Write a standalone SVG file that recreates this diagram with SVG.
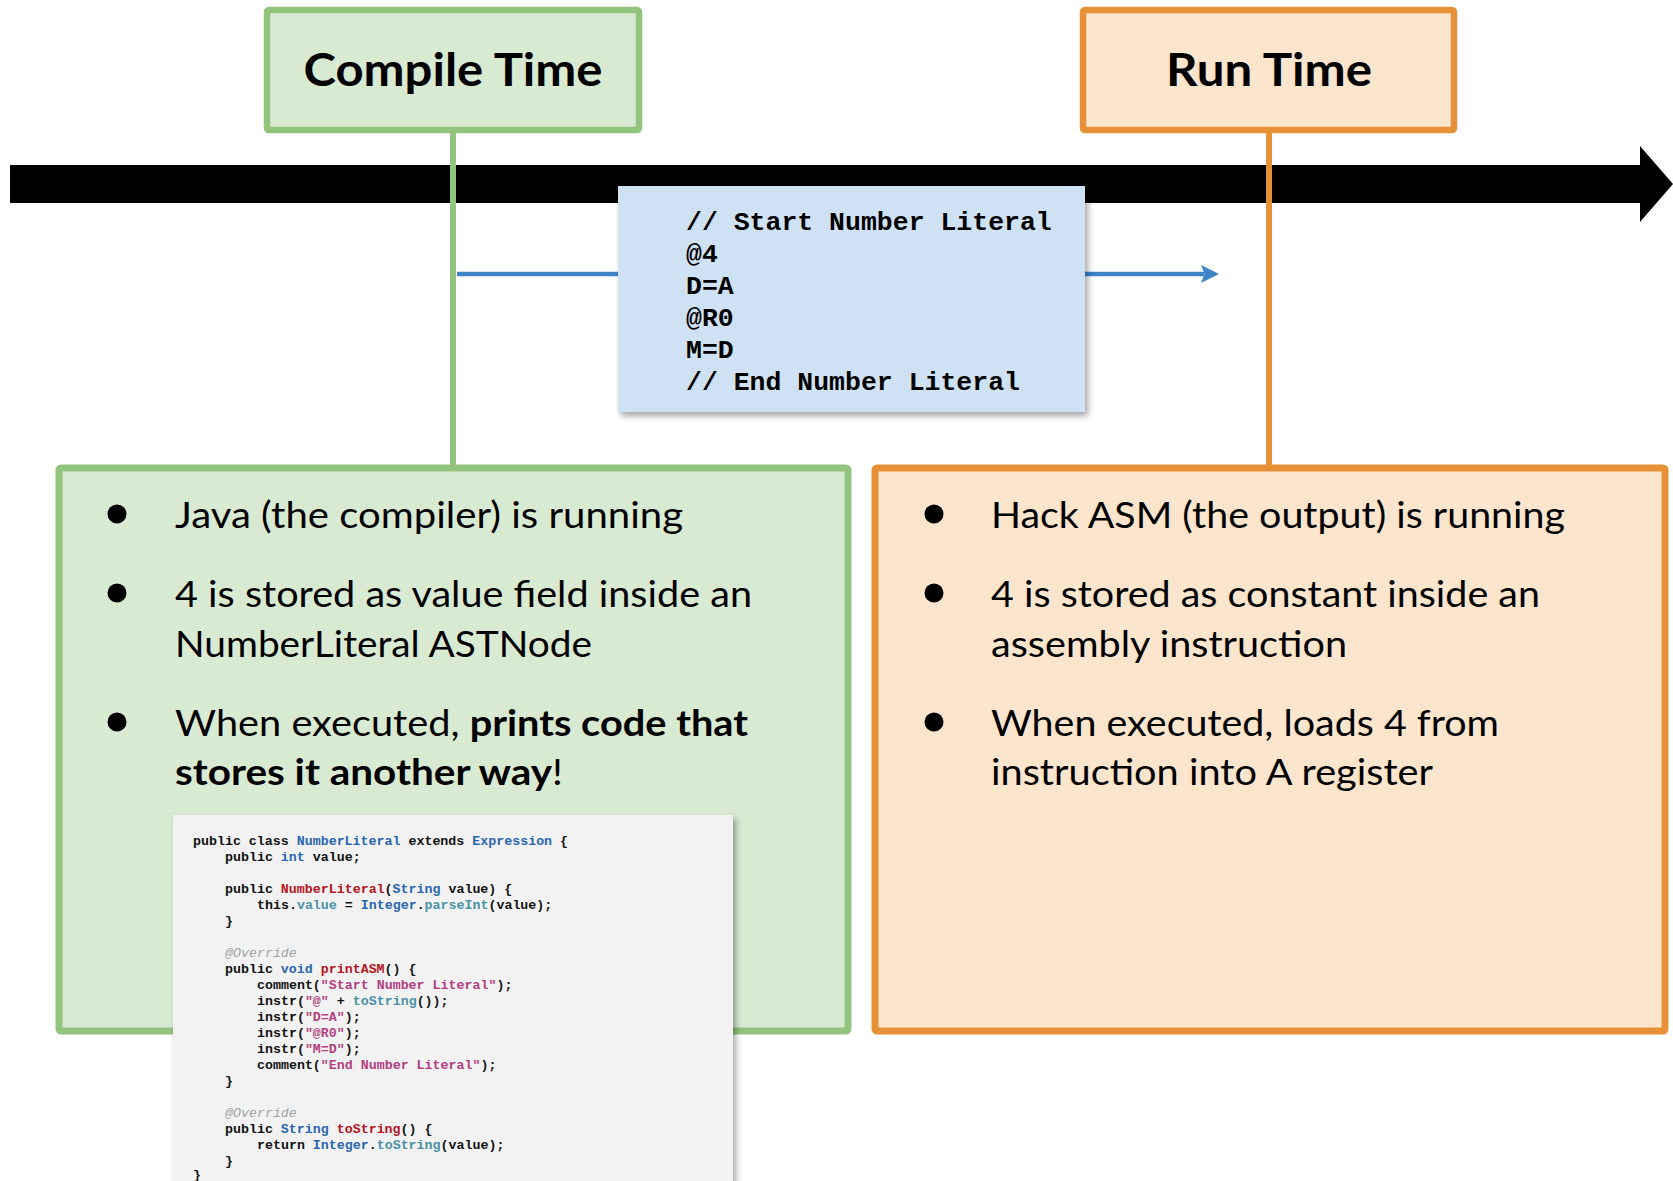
<svg xmlns="http://www.w3.org/2000/svg" width="1673" height="1181" viewBox="0 0 1673 1181">
<defs>
<style>
.hd{font-family:Lato,"Open Sans","Liberation Sans",sans-serif;font-weight:700;font-size:45px;fill:#000;text-anchor:middle}
.bt{font-family:Lato,"Open Sans","Liberation Sans",sans-serif;font-size:36px;fill:#000}
.b{font-weight:700}
.asm{font-family:"Courier New","Liberation Mono",monospace;font-weight:700;font-size:26.5px;fill:#000}
.code{font-family:"Courier New","Liberation Mono",monospace;font-weight:700;font-size:13.3px;fill:#111}
.kb{fill:#2A66AE}.kr{fill:#B2151E}.kt{fill:#4A92A6}.kp{fill:#B23E7E}.kg{fill:#A2A2A2;font-style:italic;font-weight:400}
.gline{stroke:#93C47D;stroke-width:6;fill:none}
.oline{stroke:#E69138;stroke-width:6;fill:none}
</style>
<filter id="sh" x="-10%" y="-10%" width="125%" height="130%">
<feDropShadow dx="3" dy="4" stdDeviation="3" flood-color="#000" flood-opacity="0.35"/>
</filter>
<marker id="ah" markerWidth="4" markerHeight="4" refX="1" refY="3" orient="auto" markerUnits="strokeWidth" viewBox="0 0 6 6">
<path d="M0,0 L6,3 L0,6 L1.2,3 Z" fill="#3D85C6"/>
</marker>
</defs>
<rect width="1673" height="1181" fill="#fff"/>

<g id="timeline">
<polygon points="10,165 1640,165 1640,146 1673,184 1640,222 1640,203 10,203" fill="#000"/>
</g>

<g id="connectors">
<line class="gline" x1="453" y1="130" x2="453" y2="468"/>
<line class="oline" x1="1269" y1="130" x2="1269" y2="468"/>
<line x1="457" y1="274" x2="1204" y2="274" stroke="#3D85C6" stroke-width="4.5" marker-end="url(#ah)"/>
</g>

<g id="compile-time">
<rect x="267" y="10" width="372" height="120" rx="2" fill="#D9EAD3" stroke="#93C47D" stroke-width="6.5"/>
<text class="hd" x="453" y="86" textLength="299" lengthAdjust="spacingAndGlyphs">Compile Time</text>
</g>

<g id="run-time">
<rect x="1083" y="10" width="371" height="120" rx="2" fill="#FCE5CD" stroke="#E69138" stroke-width="6.5"/>
<text class="hd" x="1269" y="86" textLength="206" lengthAdjust="spacingAndGlyphs">Run Time</text>
</g>

<g id="asm-box">
<rect x="618" y="186" width="467" height="226" fill="#CFE2F3" filter="url(#sh)"/>
<text class="asm" x="686" y="230">// Start Number Literal</text>
<text class="asm" x="686" y="262">@4</text>
<text class="asm" x="686" y="294">D=A</text>
<text class="asm" x="686" y="326">@R0</text>
<text class="asm" x="686" y="358">M=D</text>
<text class="asm" x="686" y="390">// End Number Literal</text>
</g>

<g id="compile-panel">
<rect x="59" y="468" width="789" height="563" rx="2" fill="#D9EAD3" stroke="#93C47D" stroke-width="7"/>
<circle cx="117" cy="514" r="9.5" fill="#000"/>
<circle cx="117" cy="593" r="9.5" fill="#000"/>
<circle cx="117" cy="722" r="9.5" fill="#000"/>
<text class="bt" x="175" y="528" textLength="508" lengthAdjust="spacingAndGlyphs">Java (the compiler) is running</text>
<text class="bt" x="175" y="607" textLength="577" lengthAdjust="spacingAndGlyphs">4 is stored as value field inside an</text>
<text class="bt" x="175" y="657" textLength="417" lengthAdjust="spacingAndGlyphs">NumberLiteral ASTNode</text>
<text class="bt" x="175" y="736" textLength="573" lengthAdjust="spacingAndGlyphs">When executed, <tspan class="b">prints code that</tspan></text>
<text class="bt" x="175" y="785" textLength="388" lengthAdjust="spacingAndGlyphs"><tspan class="b">stores it another way</tspan>!</text>
</g>

<g id="run-panel">
<rect x="875" y="468" width="790" height="563" rx="2" fill="#FCE5CD" stroke="#E69138" stroke-width="7"/>
<circle cx="934" cy="514" r="9.5" fill="#000"/>
<circle cx="934" cy="593" r="9.5" fill="#000"/>
<circle cx="934" cy="722" r="9.5" fill="#000"/>
<text class="bt" x="991" y="528" textLength="574" lengthAdjust="spacingAndGlyphs">Hack ASM (the output) is running</text>
<text class="bt" x="991" y="607" textLength="549" lengthAdjust="spacingAndGlyphs">4 is stored as constant inside an</text>
<text class="bt" x="991" y="657" textLength="356" lengthAdjust="spacingAndGlyphs">assembly instruction</text>
<text class="bt" x="991" y="736" textLength="508" lengthAdjust="spacingAndGlyphs">When executed, loads 4 from</text>
<text class="bt" x="991" y="785" textLength="442" lengthAdjust="spacingAndGlyphs">instruction into A register</text>
</g>

<g id="java-code" xml:space="preserve">
<rect x="173" y="815" width="560" height="380" fill="#F2F2F2" filter="url(#sh)"/>
<text class="code" x="193" y="845">public class <tspan class="kb">NumberLiteral</tspan> extends <tspan class="kb">Expression</tspan> {</text>
<text class="code" x="225" y="861">public <tspan class="kb">int</tspan> value;</text>
<text class="code" x="225" y="893">public <tspan class="kr">NumberLiteral</tspan>(<tspan class="kb">String</tspan> value) {</text>
<text class="code" x="257" y="909">this.<tspan class="kt">value</tspan> = <tspan class="kb">Integer</tspan>.<tspan class="kt">parseInt</tspan>(value);</text>
<text class="code" x="225" y="925">}</text>
<text class="code kg" x="225" y="957">@Override</text>
<text class="code" x="225" y="973">public <tspan class="kb">void</tspan> <tspan class="kr">printASM</tspan>() {</text>
<text class="code" x="257" y="989">comment(<tspan class="kp">"Start Number Literal"</tspan>);</text>
<text class="code" x="257" y="1005">instr(<tspan class="kp">"@"</tspan> + <tspan class="kt">toString</tspan>());</text>
<text class="code" x="257" y="1021">instr(<tspan class="kp">"D=A"</tspan>);</text>
<text class="code" x="257" y="1037">instr(<tspan class="kp">"@R0"</tspan>);</text>
<text class="code" x="257" y="1053">instr(<tspan class="kp">"M=D"</tspan>);</text>
<text class="code" x="257" y="1069">comment(<tspan class="kp">"End Number Literal"</tspan>);</text>
<text class="code" x="225" y="1085">}</text>
<text class="code kg" x="225" y="1117">@Override</text>
<text class="code" x="225" y="1133">public <tspan class="kb">String</tspan> <tspan class="kr">toString</tspan>() {</text>
<text class="code" x="257" y="1149">return <tspan class="kb">Integer</tspan>.<tspan class="kt">toString</tspan>(value);</text>
<text class="code" x="225" y="1165">}</text>
<text class="code" x="193" y="1179">}</text>
</g>
</svg>
